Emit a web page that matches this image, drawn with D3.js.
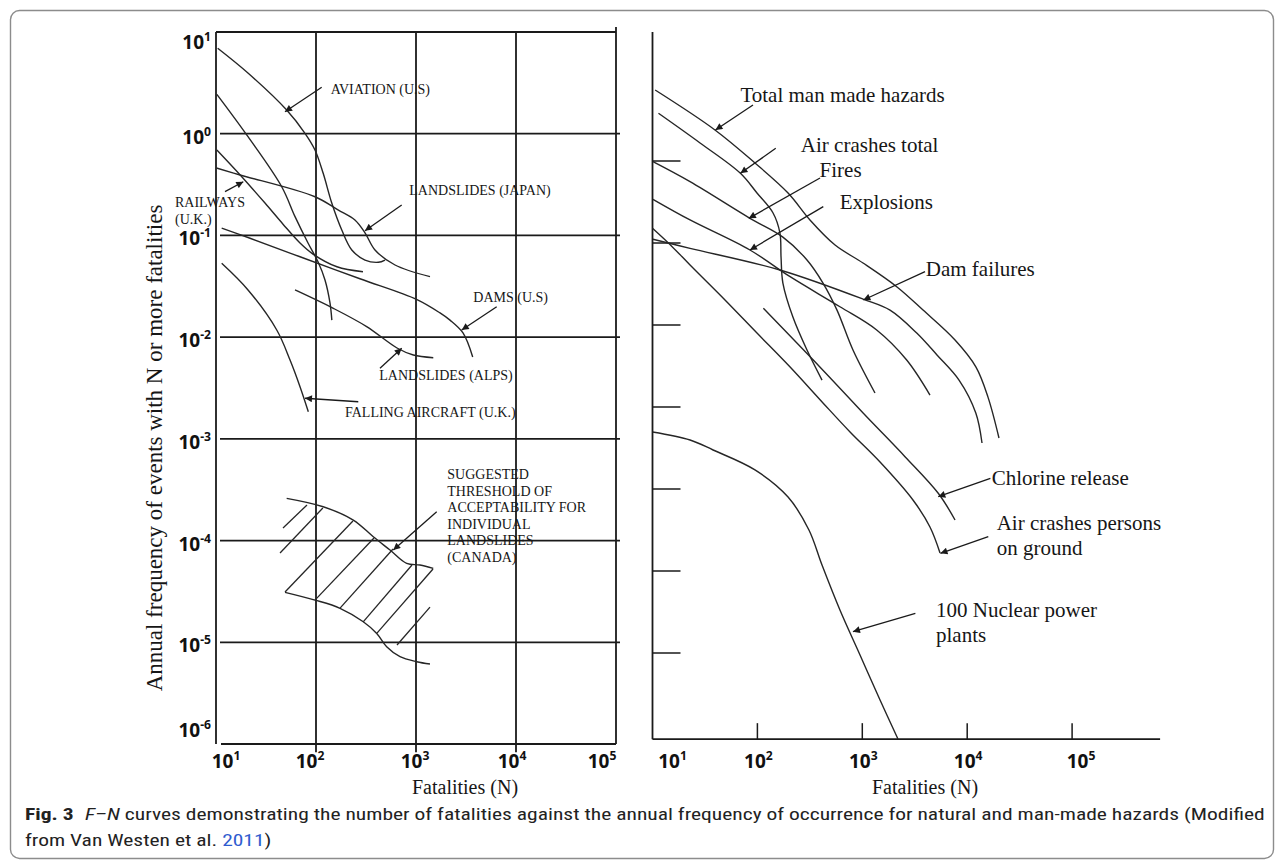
<!DOCTYPE html>
<html>
<head>
<meta charset="utf-8">
<script src="https://cdn.jsdelivr.net/npm/d3@7"></script>
<style>
  body { margin: 0; background: #fff; }
  svg { display: block; }
</style>
</head>
<body>
<svg id="fig" width="1284" height="866"></svg>
<script>
// ---------- data: [fatalities N, annual frequency F] ----------
// natural hazards (left panel)
const aviationUS = [[10.4,6.92],[21.0,3.93],[50.9,1.71],[77.6,1.01],[97.7,0.692],[118,0.408],[144,0.207],[181,0.113],[228,0.0719],[309,0.0573],[420,0.0544],[490,0.0573]];
const landslidesJapan = [[10.1,0.460],[17.4,0.393],[97.7,0.240],[166,0.178],[245,0.142],[309,0.106],[389,0.0719],[617,0.0512],[1380,0.0393]];
const unnamedSteep = [[10.2,2.44],[20.9,0.935],[45.4,0.301],[61.7,0.153],[83.2,0.0842],[105,0.0548],[123,0.0365],[138,0.0217],[144,0.0147]];
const railwaysUK = [[10.2,0.692],[18.1,0.378],[30.9,0.208],[46.8,0.129],[69.2,0.0842],[93.3,0.0656],[162,0.0492],[295,0.0440]];
const damsUS = [[11.4,0.118],[21.9,0.0938],[69.2,0.0617],[275,0.0375],[1023,0.0234],[1738,0.0173],[2188,0.0147],[2951,0.0110],[3690,0.00638]];
const fallingAircraftUK = [[11.4,0.0532],[20.9,0.0291],[40.5,0.01175],[55.0,0.00596],[69.2,0.00326],[83.8,0.00185]];
const landslidesAlps = [[61.7,0.0291],[149,0.0192],[321,0.0127],[646,0.00782],[940,0.00667],[1489,0.00628]];

// threshold of acceptability band (Canada)
const canadaUpper = [[50.9,2.60e-4],[118,2.15e-4],[236,1.59e-4],[374,1.09e-4],[550,8.07e-5],[807,5.97e-5],[1096,5.75e-5],[1489,5.33e-5]];
const canadaLower = [[49.0,3.10e-5],[97.7,2.60e-5],[174,2.16e-5],[297,1.59e-5],[405,1.22e-5],[509,9.04e-6],[692,7.21e-6],[1016,6.44e-6],[1380,6.11e-6]];
const canadaHatch = [
  [[46.8,1.33e-4],[81.3,2.24e-4]],
  [[43.7,7.55e-5],[117,2.09e-4]],
  [[49.0,3.12e-5],[234,1.56e-4]],
  [[97.7,2.60e-5],[380,1.06e-4]],
  [[174,2.17e-5],[589,8.26e-5]],
  [[295,1.58e-5],[912,5.75e-5]],
  [[407,1.23e-5],[1479,5.25e-5]],
  [[646,9.4e-6],[1380,2.22e-5]]
];

// man-made hazards (right panel)
const totalManMade = [[10.6,7.34],[39.4,2.39],[94.8,0.945],[196,0.407],[317,0.191],[550,0.0945],[1016,0.0570],[2143,0.0291],[3793,0.0152],[7656,0.00656],[12130,0.00307],[15780,0.00132],[20090,4.19e-4]];
const airCrashesTotal = [[11.4,3.82],[28.4,1.66],[68.9,0.708],[99.1,0.407],[141,0.232],[164,0.132],[168,0.0675],[175,0.0325],[218,0.0125],[297,0.00495],[413,0.00213]];
const fires = [[10.1,0.980],[22.8,0.559],[84.9,0.200],[175,0.118],[297,0.0621],[422,0.0325],[574,0.0152],[815,0.00495],[1321,0.00148]];
const explosions = [[10.1,0.341],[22.8,0.191],[84.9,0.0822],[205,0.0388],[612,0.0167],[1371,0.00869],[2649,0.00374],[4416,0.00140]];
const damFailures = [[10.1,0.111],[22.8,0.0861],[164,0.0469],[1016,0.0207],[1837,0.0152],[3304,0.00798],[5152,0.00431],[8356,0.00213],[12080,8.45e-4],[13840,3.64e-4]];
const airCrashesGround = [[10,0.151],[15.4,0.0902],[22.8,0.0539],[49.1,0.0202],[99.1,0.00798],[205,0.00307],[422,0.00112],[764,4.96e-4],[1476,2.13e-4],[3041,7.34e-5],[4416,3.44e-5],[5508,1.66e-5]];
const chlorineRelease = [[114,0.0160],[341,0.00374],[1023,8.38e-4],[2553,2.48e-4],[5297,8.87e-5],[7656,4.19e-5]];
const nuclearPlants = [[10,4.96e-4],[22.8,3.96e-4],[37.8,2.99e-4],[94.8,1.71e-4],[196,7.98e-5],[310,3.16e-5],[413,1.18e-5],[612,3.34e-6],[951,9.45e-7],[1476,2.67e-7],[2188,8.93e-8]];

// axes: decades shown as powers of ten
const xTickExps = [1, 2, 3, 4, 5];
const yTickExpsLeft = [1, 0, -1, -2, -3, -4, -5, -6];
const yTickExpsRight = [0, -1, -2, -3, -4, -5, -6];

// annotation texts with anchor / leader positions as [log10 N, log10 F]
const leftNotes = [
  { lines: ["AVIATION (U.S)"], at: [2.147, 0.390], from: [2.057, 0.456], to: [1.69, 0.216] },
  { lines: ["LANDSLIDES (JAPAN)"], at: [2.933, -0.603], from: [2.857, -0.701], to: [2.49, -0.954] },
  { lines: ["RAILWAYS", "(U.K.)"], at: [0.59, -0.724], from: [1.09, -0.570], to: [1.273, -0.472] },
  { lines: ["DAMS (U.S)"], at: [3.573, -1.652], from: [3.807, -1.701], to: [3.457, -1.930] },
  { lines: ["LANDSLIDES (ALPS)"], at: [2.633, -2.421], from: [2.64, -2.306], to: [2.857, -2.110] },
  { lines: ["FALLING AIRCRAFT (U.K.)"], at: [2.29, -2.782], from: [2.423, -2.635], to: [1.89, -2.601] },
  { lines: ["SUGGESTED", "THRESHOLD OF", "ACCEPTABILITY FOR", "INDIVIDUAL", "LANDSLIDES", "(CANADA)"],
    at: [3.313, -3.398], from: [3.207, -3.716], to: [2.773, -4.093] }
];
const rightNotes = [
  { lines: ["Total man made hazards"], at: [1.838, 0.723], from: [1.958, 0.683], to: [1.600, 0.378] },
  { lines: ["Air crashes total"], at: [2.414, 0.113], from: [2.175, 0.155], to: [1.838, -0.150] },
  { lines: ["Fires"], at: [2.593, -0.191], from: [2.597, -0.207], to: [1.918, -0.699] },
  { lines: ["Explosions"], at: [2.784, -0.589], from: [2.628, -0.557], to: [1.929, -1.085] },
  { lines: ["Dam failures"], at: [3.605, -1.402], from: [3.598, -1.350], to: [3.010, -1.695] },
  { lines: ["Chlorine release"], at: [4.234, -3.951], from: [4.221, -3.870], to: [3.724, -4.094] },
  { lines: ["Air crashes persons", "on ground"], at: [4.281, -4.5], from: [4.201, -4.582], to: [3.745, -4.784] },
  { lines: ["100 Nuclear power", "plants"], at: [3.703, -5.561], from: [3.506, -5.516], to: [2.911, -5.740] }
];

// ---------- drawing ----------
const svg = d3.select("#fig");
const ink = "#1a1a1a";
const curveInk = "#262626";
const serif = "'Liberation Serif', 'Times New Roman', serif";
const boldSans = "'Noto Sans', 'Liberation Sans', sans-serif";
const p10 = e => Math.pow(10, e);

svg.append("rect").attr("width", 1284).attr("height", 866).attr("fill", "#fff");
svg.append("rect").attr("x", 10.5).attr("y", 10.5).attr("width", 1263).attr("height", 848)
  .attr("rx", 9).attr("fill", "none").attr("stroke", "#8c8c8c").attr("stroke-width", 1.4);

svg.append("defs").append("marker")
  .attr("id", "head").attr("viewBox", "0 0 10 10").attr("refX", 10).attr("refY", 5)
  .attr("markerWidth", 9).attr("markerHeight", 7).attr("markerUnits", "userSpaceOnUse")
  .attr("orient", "auto")
  .append("path").attr("d", "M0,0 L10,5 L0,10 Z").attr("fill", ink);

const xL = d3.scaleLog().domain([10, 1e5]).range([216, 616]);
const yL = d3.scaleLog().domain([1e-6, 10]).range([744, 32]);
const xR = d3.scaleLog().domain([10, 1e5]).range([652.5, 1072.1]);
const yR = d3.scaleLog().domain([1e-7, 10]).range([735, 79]);

const smooth = (xs, ys) => d3.line().x(d => xs(d[0])).y(d => ys(d[1])).curve(d3.curveCatmullRom.alpha(0.5));
const straight = (xs, ys) => d3.line().x(d => xs(d[0])).y(d => ys(d[1]));

function seg(g, x1, y1, x2, y2, w) {
  g.append("line").attr("x1", x1).attr("y1", y1).attr("x2", x2).attr("y2", y2)
    .attr("stroke", ink).attr("stroke-width", w);
}

function powLabel(g, x, y, exp, anchor, size) {
  const t = g.append("text").attr("x", x).attr("y", y).attr("text-anchor", anchor)
    .attr("font-family", boldSans).attr("font-weight", 700).attr("font-size", size).attr("fill", "#111");
  t.append("tspan").text("10");
  t.append("tspan").attr("dy", -8).attr("font-size", size * 0.64).text(String(exp));
}

function drawNotes(g, list, xs, ys, size, lh) {
  list.forEach(n => {
    const x = xs(p10(n.at[0])), y = ys(p10(n.at[1]));
    const t = g.append("text").attr("font-family", serif).attr("font-size", size).attr("fill", "#161616");
    n.lines.forEach((s, i) => t.append("tspan").attr("x", x).attr("y", y + i * lh).text(s));
    g.append("line")
      .attr("x1", xs(p10(n.from[0]))).attr("y1", ys(p10(n.from[1])))
      .attr("x2", xs(p10(n.to[0]))).attr("y2", ys(p10(n.to[1])))
      .attr("stroke", ink).attr("stroke-width", 1.3).attr("marker-end", "url(#head)");
  });
}

// ----- left panel: natural hazards -----
const L = svg.append("g");
// vertical grid lines
[100, 1000, 10000].forEach(n => seg(L, xL(n), yL(10), xL(n), yL(p10(-6.08)), 1.8));
seg(L, xL(1e5), yL(p10(1.05)), xL(1e5), yL(1e-6), 1.8);
seg(L, xL(10), yL(10), xL(10), yL(1e-6), 1.8);
// horizontal grid lines
seg(L, xL(10), yL(10), xL(1e5), yL(10), 1.8);
[1, 0.1, 0.01, 1e-3, 1e-4, 1e-5].forEach(f => seg(L, xL(p10(1.04)), yL(f), xL(p10(5.04)), yL(f), 1.8));
seg(L, xL(p10(1.05)), yL(1e-6), xL(1e5), yL(1e-6), 1.8);

// tick labels
yTickExpsLeft.forEach(e => {
  const cy = Math.min(730, Math.max(42, yL(p10(e)) + 3));
  powLabel(L, 211, cy + 7, e, "end", 19);
});
const leftXNudge = [10, -6, -1, -4, -14];
xTickExps.forEach((e, i) => powLabel(L, xL(p10(e)) + leftXNudge[i], 768, e, "middle", 19));

// curves
[aviationUS, landslidesJapan, unnamedSteep, railwaysUK, damsUS, fallingAircraftUK, landslidesAlps].forEach(c =>
  L.append("path").attr("d", smooth(xL, yL)(c)).attr("fill", "none").attr("stroke", curveInk).attr("stroke-width", 1.4));

// acceptability band with hatching
[canadaUpper, canadaLower].forEach(c =>
  L.append("path").attr("d", smooth(xL, yL)(c)).attr("fill", "none").attr("stroke", curveInk).attr("stroke-width", 1.4));
canadaHatch.forEach(h =>
  L.append("path").attr("d", straight(xL, yL)(h)).attr("fill", "none").attr("stroke", curveInk).attr("stroke-width", 1.3));

drawNotes(L, leftNotes, xL, yL, 14, 16.5);

L.append("text").attr("transform", "translate(162,448) rotate(-90)").attr("text-anchor", "middle")
  .attr("font-family", serif).attr("font-size", 23).attr("fill", "#161616")
  .text("Annual frequency of events with N or more fatalities");
L.append("text").attr("x", 465).attr("y", 794).attr("text-anchor", "middle")
  .attr("font-family", serif).attr("font-size", 20).attr("fill", "#161616").text("Fatalities (N)");

// ----- right panel: man-made hazards -----
const R = svg.append("g");
const axisTopF = 37.4, axisBottomF = 8.9e-8, axisEndN = 6.9e5;
seg(R, xR(10), yR(axisTopF), xR(10), yR(axisBottomF), 1.8);
seg(R, xR(10), yR(axisBottomF), xR(axisEndN), yR(axisBottomF), 1.8);
yTickExpsRight.forEach(e => seg(R, xR(10), yR(p10(e)), xR(10) + 28, yR(p10(e)), 1.5));
xTickExps.slice(1).forEach(e => seg(R, xR(p10(e)), yR(axisBottomF), xR(p10(e)), yR(axisBottomF) - 16, 1.5));

const rightXNudge = [20, 1, 1, 1, 9];
xTickExps.forEach((e, i) => powLabel(R, xR(p10(e)) + rightXNudge[i], 768, e, "middle", 19));

[totalManMade, airCrashesTotal, fires, explosions, damFailures, airCrashesGround, chlorineRelease, nuclearPlants].forEach(c =>
  R.append("path").attr("d", smooth(xR, yR)(c)).attr("fill", "none").attr("stroke", curveInk).attr("stroke-width", 1.4));

drawNotes(R, rightNotes, xR, yR, 21, 25);

R.append("text").attr("x", 925).attr("y", 794).attr("text-anchor", "middle")
  .attr("font-family", serif).attr("font-size", 20).attr("fill", "#161616").text("Fatalities (N)");

// ----- caption -----
const capFont = "'Liberation Sans Narrow', 'Roboto Condensed', 'Liberation Sans', sans-serif";
const cap = svg.append("g").attr("font-family", capFont).attr("font-size", 17).attr("fill", "#222");
const c1 = cap.append("text").attr("x", 25).attr("y", 820);
c1.append("tspan").attr("font-weight", 700).text("Fig. 3");
c1.append("tspan").attr("dx", 9).attr("font-style", "italic").text("F–N");
c1.append("tspan").text(" curves demonstrating the number of fatalities against the annual frequency of occurrence for natural and man-made hazards (Modified");
const c2 = cap.append("text").attr("x", 25).attr("y", 846);
c2.append("tspan").text("from Van Westen et al. ");
c2.append("tspan").attr("fill", "#2f5ccf").text("2011");
c2.append("tspan").text(")");
const w1 = c1.node().getBBox().width;
const sx = 1240 / w1;
[c1, c2].forEach(t => t.attr("transform", `translate(25,0) scale(${sx},1) translate(-25,0)`));
</script>
</body>
</html>
